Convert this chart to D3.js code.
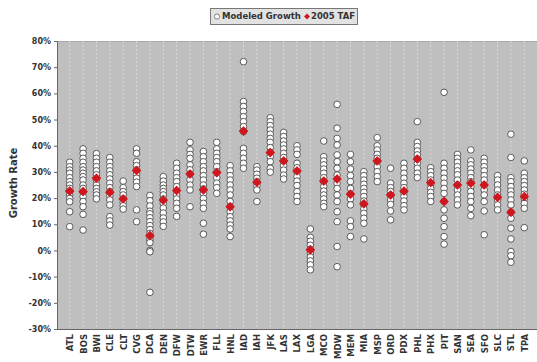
<!DOCTYPE html>
<html>
<head>
<meta charset="utf-8">
<script src="https://cdn.jsdelivr.net/npm/d3@7/dist/d3.min.js"></script>
<style>
  html, body { margin: 0; padding: 0; background: #fff; }
  svg { display: block; }
  text { font-family: "DejaVu Sans", sans-serif; font-weight: bold; fill: #333; }
</style>
</head>
<body>
<svg id="chart" width="537" height="362"></svg>
<script>
const categories = ["ATL","BOS","BWI","CLE","CLT","CVG","DCA","DEN","DFW","DTW","EWR","FLL","HNL","IAD","IAH","JFK","LAS","LAX","LGA","MCO","MDW","MEM","MIA","MSP","ORD","PDX","PHL","PHX","PIT","SAN","SEA","SFO","SLC","STL","TPA"];

const modeledGrowth = [
  [33.7,32.0,30.7,29.5,27.8,26.3,25.0,23.7,22.5,21.2,19.9,18.6,14.8,9.1],
  [38.8,37.1,35.2,33.7,32.0,30.7,29.5,28.2,26.9,25.0,23.7,22.2,20.6,18.7,16.7,13.8,7.8],
  [37.0,35.2,33.7,32.0,30.4,28.9,26.9,25.0,23.7,22.4,21.2,19.7],
  [35.5,33.7,32.0,30.4,28.9,27.3,25.7,24.0,22.5,20.9,19.3,17.4,12.9,11.3,9.7],
  [26.5,24.0,22.5,21.2,19.7,18.4,17.1,15.8],
  [38.8,37.1,33.9,32.4,30.8,29.1,27.6,26.1,24.4,15.5,11.0],
  [21.0,19.0,17.0,15.0,14.0,12.5,11.0,9.5,8.0,6.5,5.0,4.0,3.0,0.0,-0.5,-16.0],
  [28.2,26.5,25.0,23.7,22.5,21.2,19.7,18.0,16.2,14.3,12.4,10.9,9.2],
  [33.3,31.4,29.5,27.8,26.3,24.4,22.7,21.2,19.7,18.0,16.1,13.0],
  [41.3,38.4,36.7,35.2,32.7,30.8,29.2,27.0,25.0,23.1,16.7],
  [37.8,35.8,33.9,32.0,30.4,28.6,26.9,25.0,23.5,21.8,19.9,18.0,16.1,10.4,6.2],
  [41.3,38.8,37.1,35.5,33.9,32.0,30.1,27.8,25.7,24.0,21.8],
  [32.4,30.4,28.6,26.9,25.0,23.1,21.2,18.7,16.7,14.8,12.9,11.3,9.7,8.2,5.3],
  [72.1,56.9,55.0,53.1,51.1,49.2,47.3,45.4,39.0,37.1,35.2,33.3,31.4],
  [32.0,30.7,29.1,27.6,26.3,24.8,23.1,18.7],
  [50.7,49.2,47.7,46.0,44.4,42.8,41.3,39.3,37.4,35.8,33.9,31.4,29.9],
  [45.1,43.5,41.8,40.3,38.8,37.1,35.5,33.9,32.4,30.7,28.8,27.3],
  [40.0,38.4,36.7,33.3,31.6,29.9,28.2,26.5,24.8,22.5,20.6,18.7],
  [8.2,5.0,3.5,2.0,0.5,-1.0,-2.5,-4.0,-5.5,-7.4],
  [41.8,35.8,34.2,32.7,31.1,29.5,27.8,26.3,24.4,22.7,21.2,19.7,18.0,16.7],
  [55.8,46.7,42.8,40.3,36.5,33.9,31.4,28.8,25.7,23.7,21.2,18.7,14.8,11.0,1.5,-6.2],
  [36.7,33.9,31.1,28.6,26.3,23.7,21.5,19.7,17.4,11.3,9.1,5.3],
  [30.1,28.6,26.9,25.3,23.7,22.2,20.6,18.9,17.4,15.8,14.2,12.3,10.4,4.4],
  [43.1,40.0,38.4,36.7,35.2,33.9,32.0,30.1,28.2,26.3],
  [31.4,25.7,24.0,22.5,20.9,19.3,17.6,15.1,11.7],
  [33.3,31.4,29.5,27.6,25.7,24.0,22.2,20.6,18.9,17.1,15.5],
  [49.2,41.3,39.7,38.0,36.5,34.9,33.3,31.4,29.5,27.8],
  [31.6,30.1,28.6,26.9,25.3,23.7,22.2,20.6,18.7],
  [60.4,33.3,31.4,29.5,27.6,25.7,23.7,21.8,18.7,15.5,12.3,9.1,5.3,2.4],
  [36.7,35.2,33.7,32.0,30.4,28.9,26.9,25.0,23.1,21.2,19.3,17.4],
  [38.4,34.2,32.7,31.1,29.5,27.8,26.3,24.4,22.5,20.6,18.7,16.1,13.3],
  [35.2,33.7,32.0,30.4,28.6,26.9,25.0,23.1,21.2,18.7,15.1,6.0],
  [28.6,26.9,25.0,23.1,21.2,19.3,17.4,15.5],
  [44.4,35.5,27.8,26.3,24.4,22.7,21.2,19.3,17.4,14.6,12.3,8.5,4.4,-0.4,-2.0,-4.5],
  [34.2,29.5,27.8,26.3,24.8,23.1,21.5,19.7,18.0,16.1,8.7]
];

const taf2005 = [22.7,22.5,27.6,22.2,19.7,30.5,5.7,19.2,22.9,29.2,23.1,29.7,16.7,45.6,26.0,37.4,34.2,30.4,0.2,26.5,27.3,21.5,17.8,34.2,21.2,22.7,34.9,25.9,18.7,25.0,25.7,25.0,20.3,14.6,20.6];

const yTicks = [-30,-20,-10,0,10,20,30,40,50,60,70,80];
const legendLabels = ["Modeled Growth", "2005 TAF"];

const svg = d3.select("#chart");
const plot = {left: 57, right: 537, top: 41, bottom: 329};

const x = d3.scalePoint().domain(categories).range([plot.left, plot.right]).padding(0.95);
const y = d3.scaleLinear().domain([-30, 80]).range([plot.bottom, plot.top]);

// plot background
svg.append("rect")
  .attr("x", plot.left).attr("y", plot.top)
  .attr("width", plot.right - plot.left).attr("height", plot.bottom - plot.top)
  .attr("fill", "#bfbfbf");
svg.append("line")
  .attr("x1", plot.left).attr("x2", plot.right)
  .attr("y1", plot.top + 0.5).attr("y2", plot.top + 0.5)
  .attr("stroke", "#a8a8a8");

// vertical dashed gridlines
svg.append("g").selectAll("line").data(categories).join("line")
  .attr("x1", d => x(d)).attr("x2", d => x(d))
  .attr("y1", plot.top).attr("y2", plot.bottom)
  .attr("stroke", "#dadada").attr("stroke-width", 1)
  .attr("stroke-dasharray", "2,2");

// y axis
const yAxis = d3.axisLeft(y).tickValues(yTicks).tickFormat(d => d + "%").tickSize(3).tickPadding(3);
const gy = svg.append("g").attr("transform", `translate(${plot.left},0)`).call(yAxis);
gy.select(".domain").attr("stroke", "#666");
gy.selectAll(".tick line").attr("stroke", "#666");
gy.selectAll(".tick text").style("font-size", "8px").style("fill", "#333");

// x axis
const xAxis = d3.axisBottom(x).tickSize(0).tickPadding(0);
const gx = svg.append("g").attr("transform", `translate(0,${plot.bottom})`).call(xAxis);
gx.select(".domain").attr("stroke", "#666").attr("d", `M${plot.left},0.5H${plot.right}`);
gx.selectAll(".tick text")
  .attr("transform", "rotate(-90)")
  .attr("x", -5).attr("y", 0).attr("dy", "0.35em")
  .attr("text-anchor", "end")
  .style("font-size", "8.5px").style("fill", "#333");

// y title
svg.append("text")
  .attr("transform", `translate(17,183) rotate(-90)`)
  .attr("text-anchor", "middle")
  .style("font-size", "10px")
  .text("Growth Rate");

// modeled growth dots
const pts = [];
modeledGrowth.forEach((arr, i) => arr.forEach(v => pts.push({c: categories[i], v})));
svg.append("g").selectAll("circle").data(pts).join("circle")
  .attr("cx", d => x(d.c)).attr("cy", d => y(d.v))
  .attr("r", 3.3)
  .attr("fill", "#fff").attr("stroke", "#4a4a4a").attr("stroke-width", 0.9);

// TAF markers (rotated squares)
const marker = d3.symbol().type(d3.symbolSquare).size(34);
svg.append("g").selectAll("path").data(taf2005).join("path")
  .attr("transform", (d, i) => `translate(${x(categories[i])},${y(d)}) rotate(45)`)
  .attr("d", marker)
  .attr("fill", "#d0161e")
  .attr("stroke", "#d0161e").attr("stroke-width", 1).attr("stroke-linejoin", "round");

// legend
const lg = svg.append("g");
lg.append("rect").attr("x", 210.5).attr("y", 8.5).attr("width", 147).attr("height", 16)
  .attr("fill", "#e2e2e2").attr("stroke", "#777");
lg.append("circle").attr("cx", 217).attr("cy", 16.5).attr("r", 2.6)
  .attr("fill", "#fff").attr("stroke", "#666").attr("stroke-width", 0.8);
lg.append("text").attr("x", 222).attr("y", 16.5).attr("dy", "0.35em")
  .style("font-size", "8.5px").text(legendLabels[0]);
lg.append("path").attr("transform", "translate(307,16.5) rotate(45)")
  .attr("d", d3.symbol().type(d3.symbolSquare).size(18)).attr("fill", "#d0161e");
lg.append("text").attr("x", 311).attr("y", 16.5).attr("dy", "0.35em")
  .style("font-size", "8.5px").text(legendLabels[1]);
</script>
</body>
</html>
